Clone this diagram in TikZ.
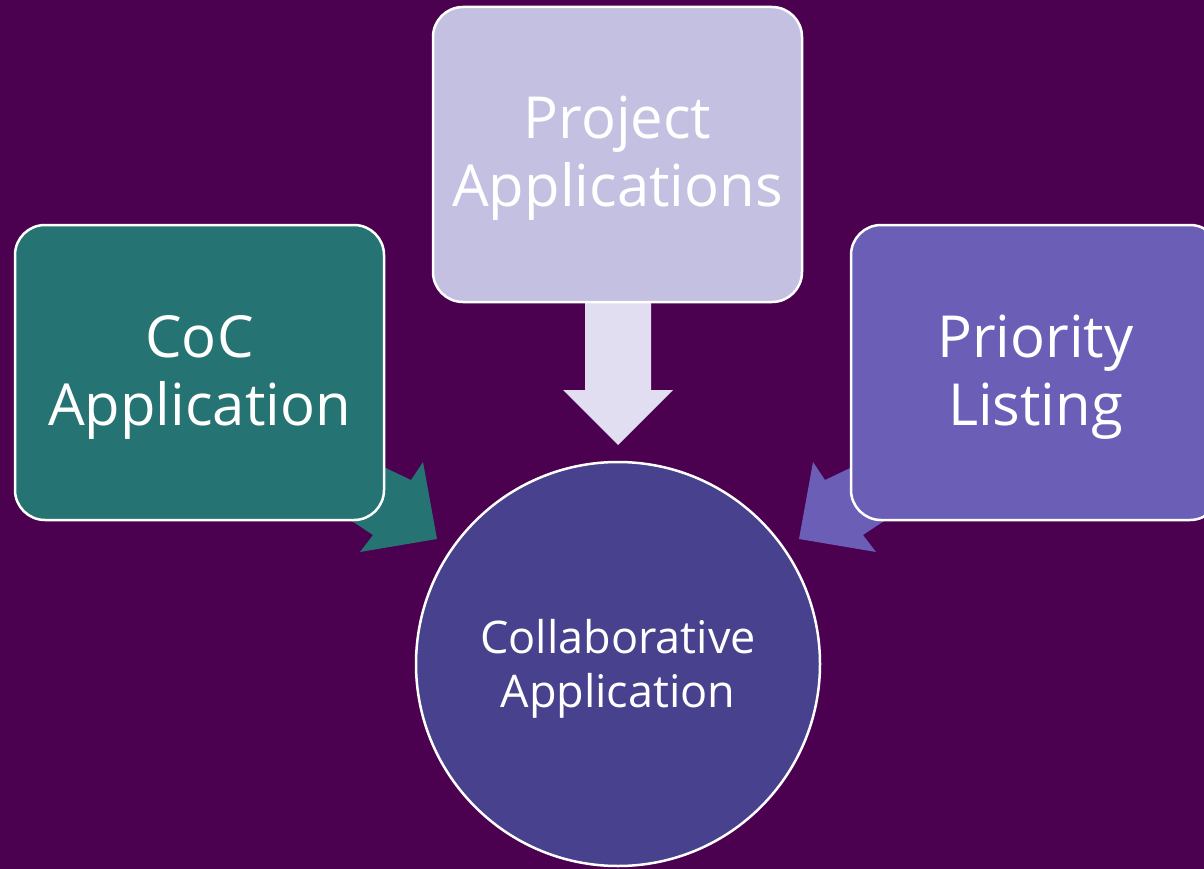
\documentclass[tikz,border=0pt]{standalone}
\usepackage{fontspec}
\setmainfont{Open Sans}
\definecolor{bgc}{HTML}{4B0050}
\definecolor{tealc}{HTML}{257372}
\definecolor{lilac}{HTML}{C3C0E2}
\definecolor{lilacarrow}{HTML}{E0DEF0}
\definecolor{violetc}{HTML}{6A5EB6}
\definecolor{circc}{HTML}{47418E}
\tikzset{
  box/.style={draw=white, line width=2.5pt, rounded corners=30pt, minimum width=369pt, minimum height=295pt, inner sep=0pt},
  boxtext/.style={text=white, align=center, inner sep=0pt, font=\fontsize{58}{68}\selectfont},
  hub/.style={circle, draw=white, line width=2.5pt, minimum size=404pt, inner sep=0pt},
  hubtext/.style={text=white, align=center, inner sep=0pt, font=\fontsize{45}{54}\selectfont}
}
\begin{document}
\begin{tikzpicture}[x=1pt,y=-1pt]
\useasboundingbox (0,0) rectangle (1204,869);
\fill[bgc] (0,0) rectangle (1204,869);
\begin{scope}
\clip (0,0) rectangle (1204,869);
% block arrows (drawn first so boxes cover their tails)
\fill[tealc] (300,427) -- (411,480) -- (423,462) -- (437,539) -- (360,552) -- (373,535) -- (290,480) -- cycle;
\fill[violetc] (936,427) -- (825,480) -- (813,462) -- (799,539) -- (876,552) -- (863,535) -- (946,480) -- cycle;
\fill[lilacarrow] (585,290) -- (651,290) -- (651,390) -- (673,390) -- (618,445) -- (563,390) -- (585,390) -- cycle;
% boxes
\node[box, fill=tealc] (coc) at (199.5,372.5) {};
\node[box, fill=lilac] (proj) at (617.5,154.5) {};
\node[box, fill=violetc] (prio) at (1035.5,372.5) {};
\node[hub, fill=circc] (collab) at (618,664) {};
\node[boxtext] (coct) at ([yshift=-5pt]coc.center) {CoC\\Application};
\node[boxtext] (projt) at ([yshift=-4pt]proj.center) {Project\\Applications};
\node[boxtext] (priot) at ([yshift=-5pt]prio.center) {Priority\\Listing};
\node[hubtext] (collabt) at ([yshift=-5pt]collab.center) {Collaborative\\Application};
\end{scope}
\end{tikzpicture}
\end{document}
